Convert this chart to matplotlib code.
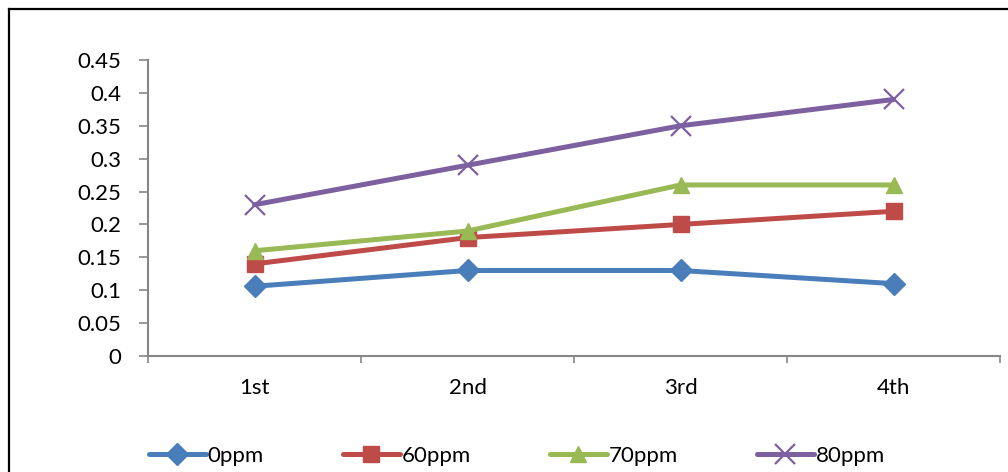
import matplotlib
matplotlib.use("Agg")
import matplotlib.pyplot as plt
from matplotlib.lines import Line2D
import numpy as np

categories = ["1st", "2nd", "3rd", "4th"]
series_names = ["0ppm", "60ppm", "70ppm", "80ppm"]
v0 = [0.106, 0.13, 0.13, 0.11]
v60 = [0.14, 0.18, 0.20, 0.22]
v70 = [0.16, 0.19, 0.26, 0.26]
v80 = [0.23, 0.29, 0.35, 0.39]
yticks = [0, 0.05, 0.1, 0.15, 0.2, 0.25, 0.3, 0.35, 0.4, 0.45]
ytick_labels = ["0", "0.05", "0.1", "0.15", "0.2", "0.25", "0.3", "0.35", "0.4", "0.45"]

colors = ["#4A7EBB", "#BE4B48", "#98B954", "#7D60A0"]
markers = ["D", "s", "^", "x"]
msizes = [11, 11, 12, 14]

plt.rcParams['font.family'] = ['Lato', 'DejaVu Sans']
FS = 16

fig = plt.figure(figsize=(10.08, 4.72), dpi=100)
ax = fig.add_axes([148/1008, 1-356/472, (1000-148)/1008, (356-60)/472])

x = np.arange(len(categories))
handles = []
for vals, c, m, ms, name in zip([v0, v60, v70, v80], colors, markers, msizes, series_names):
    kw = dict(color=c, lw=3.6, marker=m, markersize=ms, markerfacecolor=c, markeredgecolor=c,
              solid_capstyle='round', label=name)
    if m == "x":
        kw["markeredgewidth"] = 1.6
    (ln,) = ax.plot(x, vals, **kw)
    handles.append(ln)

ax.set_xlim(-0.5, 3.5)
ax.set_ylim(0, 0.45)
ax.set_yticks(yticks)
ax.set_yticklabels(ytick_labels)
ax.set_xticks(x)
ax.set_xticklabels(categories)
ax.set_xticks([-0.5, 0.5, 1.5, 2.5, 3.5], minor=True)

for s in ["top", "right"]:
    ax.spines[s].set_visible(False)
for s in ["left", "bottom"]:
    ax.spines[s].set_color("#868686")
    ax.spines[s].set_linewidth(1.5)

ax.tick_params(axis='y', direction='out', length=6.5, width=1.2, color="#868686",
               pad=13, labelsize=FS)
ax.tick_params(axis='x', which='major', length=0, pad=16, labelsize=FS)
ax.tick_params(axis='x', which='minor', direction='out', length=5, width=1.2, color="#868686")

leg = fig.legend(handles=handles, labels=series_names, loc='center', ncol=4,
                 bbox_to_anchor=(517/1008, 1-456/472), frameon=False, fontsize=FS,
                 handlelength=2.55, handletextpad=0.1, columnspacing=3.55, borderaxespad=0)

# outer frame (left and top edges visible)
fig.add_artist(Line2D([8.5/1008, 8.5/1008], [0, 1-8.5/472], transform=fig.transFigure,
                      color='black', lw=1.6))
fig.add_artist(Line2D([8.5/1008, 1], [1-8.5/472, 1-8.5/472], transform=fig.transFigure,
                      color='black', lw=1.6))

fig.savefig("out.png", dpi=100)
